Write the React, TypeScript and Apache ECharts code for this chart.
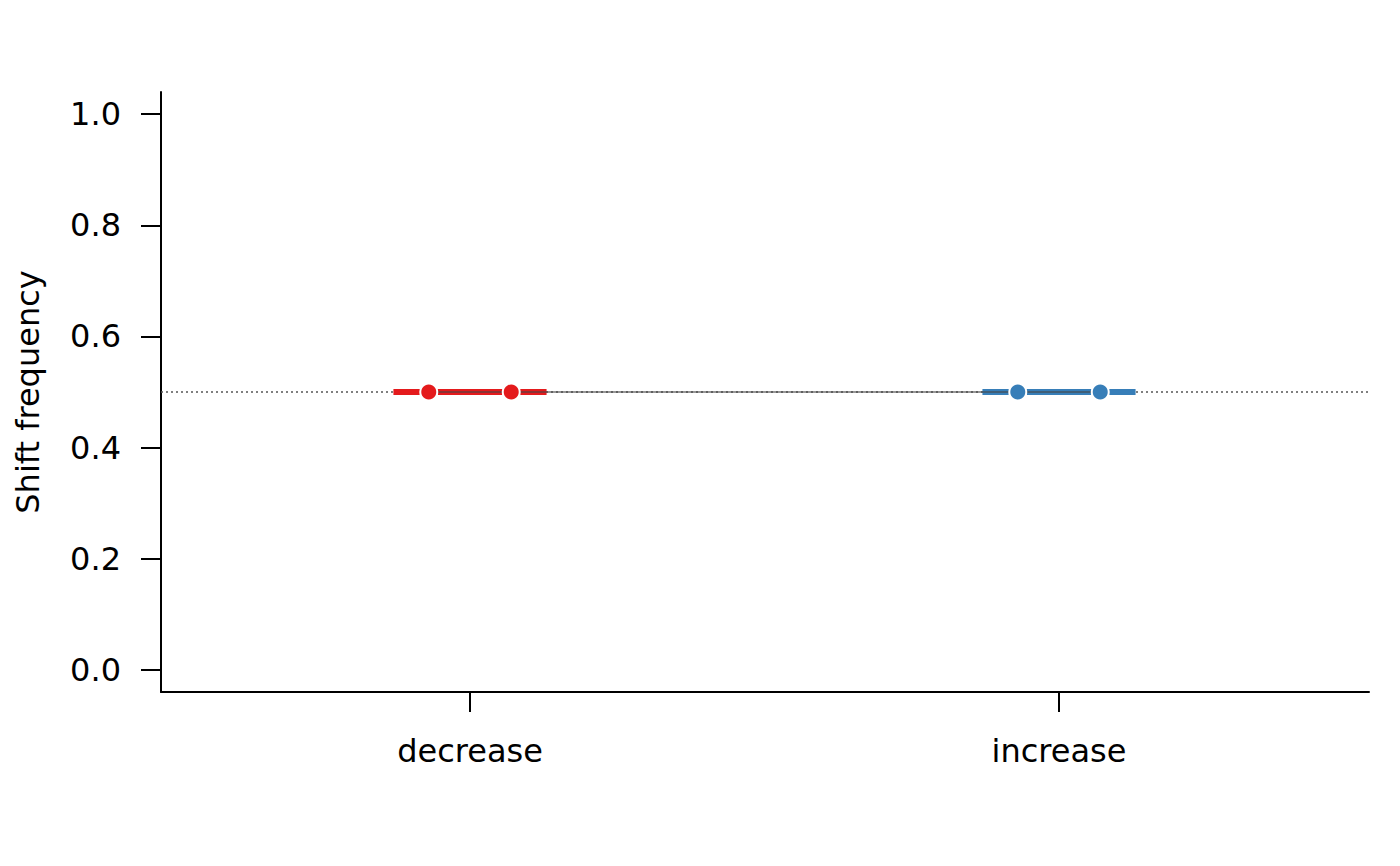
import React, { useEffect, useRef } from "react";
import * as echarts from "echarts";

const categories = ["decrease", "increase"];
const categoryColors = ["#E41A1C", "#377EB8"];
// two dodged points per category (shift frequency)
const pointValues = [
  [0.5, 0.5],
  [0.5, 0.5],
];
// mean shift frequency per category (thick bar)
const meanValues = [0.5, 0.5];
const referenceValue = 0.5;
const yTicks = [0, 0.2, 0.4, 0.6, 0.8, 1.0];
const yTitle = "Shift frequency";

const X_MIN = 0.4754;
const X_MAX = 2.5263;
const DODGE = 0.07;
const HALF_WIDTH = 0.13;
const FONT = "DejaVu Sans";
const FS = 32;

export default function App() {
  const ref = useRef<HTMLDivElement>(null);
  useEffect(() => {
    if (!ref.current) return;
    const chart = echarts.init(ref.current, undefined, { renderer: "svg" });
    const catPos = categories.map((_, i) => i + 1);
    const series: any[] = [];

    // reference dotted line
    series.push({
      type: "line",
      data: [
        [X_MIN, referenceValue],
        [X_MAX, referenceValue],
      ],
      symbol: "none",
      silent: true,
      lineStyle: { color: "#555", type: [2, 3], width: 1.6 },
      z: 1,
    });

    // thick mean segments
    categories.forEach((c, i) => {
      series.push({
        type: "line",
        name: c + " mean",
        data: [
          [catPos[i] - HALF_WIDTH, meanValues[i]],
          [catPos[i] + HALF_WIDTH, meanValues[i]],
        ],
        symbol: "none",
        lineStyle: { color: categoryColors[i], width: 6 },
        z: 2,
      });
    });

    // connecting line through all points
    const allPts: number[][] = [];
    categories.forEach((_, i) => {
      pointValues[i].forEach((v, j) => {
        allPts.push([catPos[i] + (j === 0 ? -DODGE : DODGE), v]);
      });
    });
    series.push({
      type: "line",
      data: allPts,
      symbol: "none",
      lineStyle: { color: "rgba(70,70,70,0.75)", width: 1.6 },
      z: 3,
    });

    // points
    categories.forEach((c, i) => {
      series.push({
        type: "scatter",
        name: c,
        data: pointValues[i].map((v, j) => [catPos[i] + (j === 0 ? -DODGE : DODGE), v]),
        symbolSize: 17,
        itemStyle: { color: categoryColors[i], borderColor: "#fff", borderWidth: 2, opacity: 1 },
        z: 4,
      });
    });

    chart.setOption({
      animation: false,
      backgroundColor: "#fff",
      textStyle: { fontFamily: FONT },
      grid: { left: 161, right: 31, top: 92, bottom: 174, containLabel: false, outerBoundsMode: "none" },
      xAxis: {
        type: "value",
        min: X_MIN,
        max: X_MAX,
        axisLine: { show: true, onZero: false, lineStyle: { color: "#000", width: 2 } },
        axisTick: { show: true, length: 20, customValues: catPos, lineStyle: { color: "#000", width: 2 } },
        axisLabel: {
          customValues: catPos,
          margin: 43,
          fontSize: FS,
          fontFamily: FONT,
          color: "#000",
          formatter: (v: number) => categories[Math.round(v) - 1] ?? "",
        },
        splitLine: { show: false },
      },
      yAxis: {
        type: "value",
        min: -0.04,
        max: 1.04,
        name: yTitle,
        nameLocation: "middle",
        nameGap: 117,
        nameTextStyle: { fontSize: FS, fontFamily: FONT, color: "#000" },
        axisLine: { show: true, onZero: false, lineStyle: { color: "#000", width: 2 } },
        axisTick: { show: true, length: 20, customValues: yTicks, lineStyle: { color: "#000", width: 2 } },
        axisLabel: {
          customValues: yTicks,
          margin: 40,
          fontSize: FS,
          fontFamily: FONT,
          color: "#000",
          formatter: (v: number) => v.toFixed(1),
        },
        splitLine: { show: false },
      },
      series,
    });
    return () => chart.dispose();
  }, []);
  return (
    <div
      ref={ref}
      style={{ position: "absolute", left: 0, top: 0, width: 1400, height: 866, background: "#fff" }}
    />
  );
}
